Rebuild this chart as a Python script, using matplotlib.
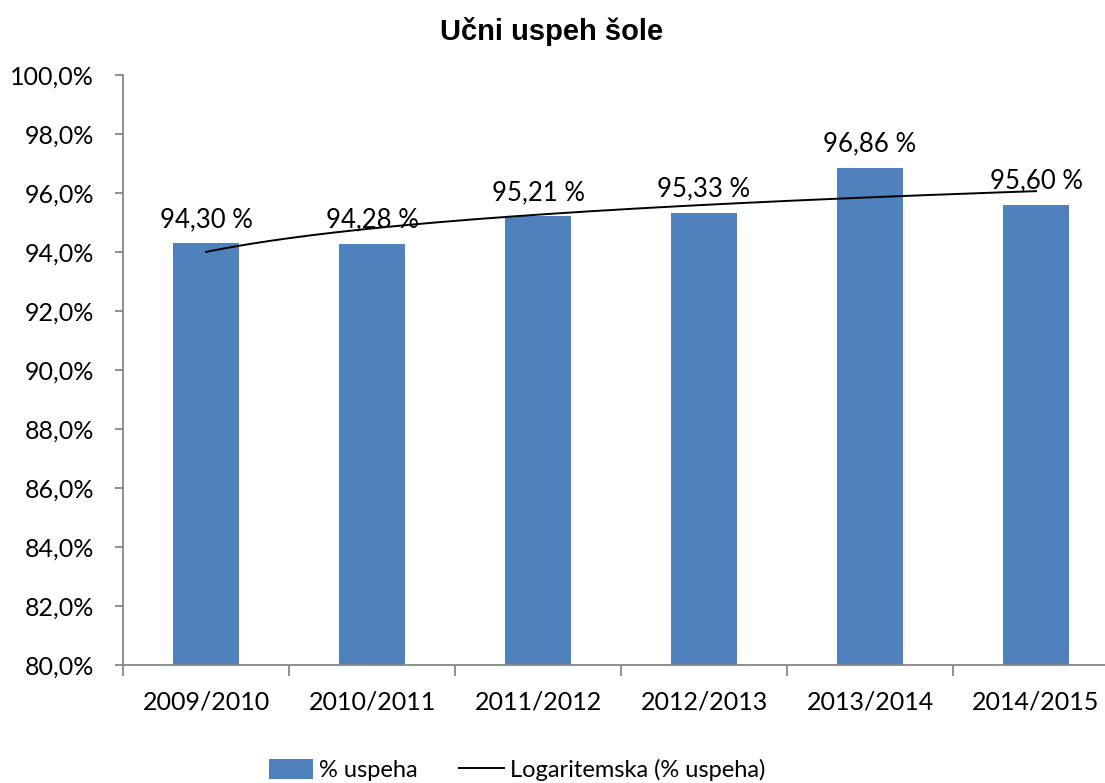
import numpy as np
import matplotlib
matplotlib.use("Agg")
import matplotlib.pyplot as plt
from matplotlib.lines import Line2D
from matplotlib.patches import Patch

plt.rcParams['font.family'] = ['Lato', 'DejaVu Sans']

categories = ["2009/2010", "2010/2011", "2011/2012", "2012/2013", "2013/2014", "2014/2015"]
values = [94.30, 94.28, 95.21, 95.33, 96.86, 95.60]
yticks = [80, 82, 84, 86, 88, 90, 92, 94, 96, 98, 100]
title = "Učni uspeh šole"
bar_label = "% uspeha"
trend_label = "Logaritemska (% uspeha)"

bar_color = "#4F81BD"
axis_color = "#868686"

fig = plt.figure(figsize=(11.05, 7.83), dpi=100)
W, H = 1105, 783
left, right, top, bottom = 123, 1119, 75, 665
ax = fig.add_axes([left / W, 1 - bottom / H, (right - left) / W, (bottom - top) / H])

x = np.arange(len(categories))
ax.bar(x, values, width=0.40, color=bar_color, zorder=2)

# logarithmic trendline fit (Excel style): y = a + b ln(n), n = 1..6
n = x + 1
b, a = np.polyfit(np.log(n), values, 1)
xs = np.linspace(1, len(categories), 200)
ax.plot(xs - 1, a + b * np.log(xs), color="black", lw=1.4, zorder=4)

for xi, v in zip(x, values):
    ax.annotate(f"{v:.2f} %".replace(".", ","), (xi, v), xytext=(0, 8),
                textcoords="offset points", ha="center", va="bottom",
                fontsize=18.5, zorder=3)

ax.set_xlim(-0.5, len(categories) - 0.5)
ax.set_ylim(80, 100)
ax.set_yticks(yticks)
ax.set_yticklabels([f"{t:.1f}%".replace(".", ",") for t in yticks], fontsize=18)
ax.set_xticks(x)
ax.set_xticklabels(categories, fontsize=18)
ax.set_xticks(np.arange(len(categories) + 1) - 0.5, minor=True)
ax.tick_params(axis="x", which="major", length=0, pad=18)
ax.tick_params(axis="x", which="minor", length=8, color=axis_color, width=1.3)
ax.tick_params(axis="y", length=6, color=axis_color, width=1.3, pad=15)

for s in ["top", "right"]:
    ax.spines[s].set_visible(False)
for s in ["left", "bottom"]:
    ax.spines[s].set_color(axis_color)
    ax.spines[s].set_linewidth(1.3)

fig.text(552 / W, 1 - 32 / H, title, ha="center", va="center", fontsize=21,
         fontweight="bold", family=["Liberation Sans Narrow", "Liberation Sans", "DejaVu Sans"])

handles = [Patch(facecolor=bar_color, edgecolor="none"),
           Line2D([0], [0], color="black", lw=1.4)]
fig.legend(handles, [bar_label, trend_label], loc="center", bbox_to_anchor=(517 / W, 1 - 770 / H),
           ncol=2, frameon=False, fontsize=17, handlelength=1.9, handleheight=0.9,
           handletextpad=0.25, columnspacing=1.75, borderpad=0)

fig.savefig("out.png", dpi=100)
